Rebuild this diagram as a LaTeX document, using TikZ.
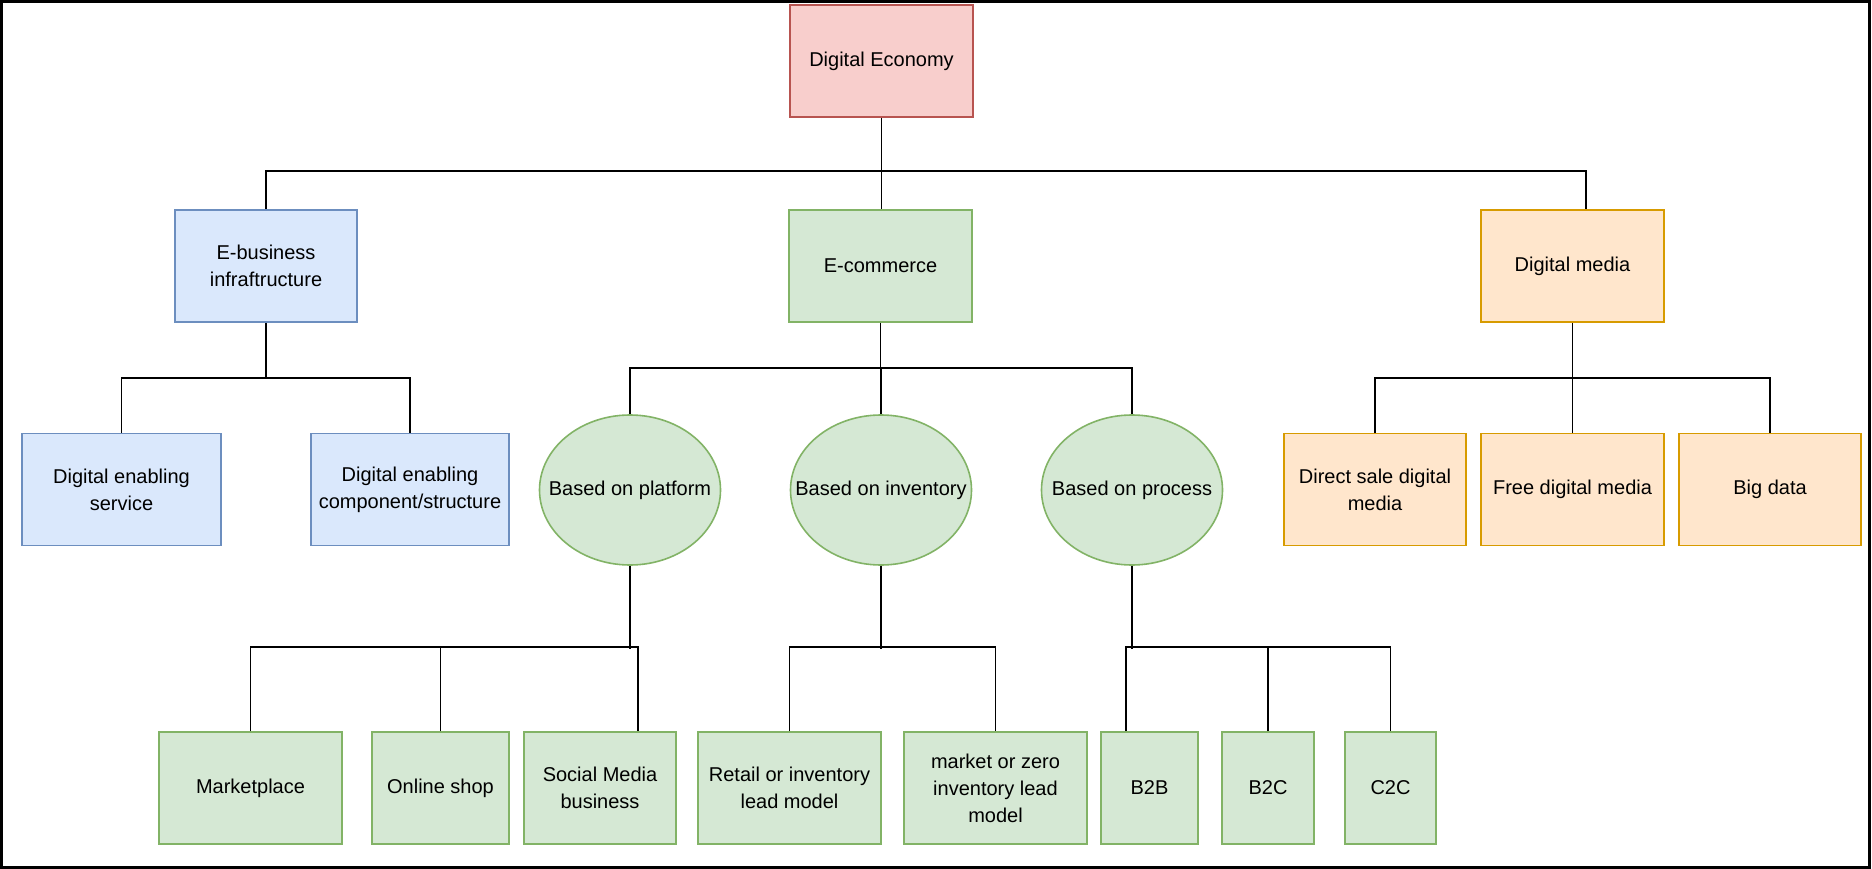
\documentclass[tikz,border=0pt]{standalone}
\usepackage{fontspec}
\setmainfont{Liberation Sans}
\usetikzlibrary{shapes.geometric}

\definecolor{redfill}{HTML}{F8CECC}
\definecolor{redline}{HTML}{B85450}
\definecolor{bluefill}{HTML}{DAE8FC}
\definecolor{blueline}{HTML}{6C8EBF}
\definecolor{greenfill}{HTML}{D5E8D4}
\definecolor{greenline}{HTML}{82B366}
\definecolor{orangefill}{HTML}{FFE6CC}
\definecolor{orangeline}{HTML}{D79B00}

\tikzset{
    item/.style={draw, line width=1.6pt, minimum height=112pt, inner sep=0pt,
        align=center, font=\fontsize{20}{27}\selectfont},
    redbox/.style={item, fill=redfill, draw=redline},
    bluebox/.style={item, fill=bluefill, draw=blueline},
    greenbox/.style={item, fill=greenfill, draw=greenline},
    orangebox/.style={item, fill=orangefill, draw=orangeline},
    greenoval/.style={item, ellipse, fill=greenfill, draw=greenline,
        minimum width=181pt, minimum height=150pt,
        label={[font=\fontsize{20}{27}\selectfont]center:#1}},
    link/.style={line width=1.7pt, black}
}

\begin{document}
\begin{tikzpicture}[x=1pt, y=-1pt]
    \useasboundingbox (0,0) rectangle (1872,869);
    % Cadre
    \draw[line width=3pt] (1.5,1.5) rectangle (1869,867);

    % Racine et premier niveau
    \node[redbox, minimum width=183pt] (econ) at (881.5,61) {Digital Economy};
    \node[bluebox, minimum width=182pt] (ebiz) at (266,266) {E-business\\infraftructure};
    \node[greenbox, minimum width=183pt] (ecom) at (880.5,266) {E-commerce};
    \node[orangebox, minimum width=183pt] (dmedia) at (1572.5,266) {Digital media};

    % Sous E-business
    \node[bluebox, minimum width=199pt] (desvc) at (121.5,489.5) {Digital enabling\\service};
    \node[bluebox, minimum width=198pt] (decomp) at (410,489.5) {Digital enabling\\component/structure};

    % Sous E-commerce
    \node[greenoval=Based on platform] (platform) at (630,490) {};
    \node[greenoval=Based on inventory] (inventory) at (881,490) {};
    \node[greenoval=Based on process] (process) at (1132,490) {};

    % Sous Digital media
    \node[orangebox, minimum width=182pt] (direct) at (1375,489.5) {Direct sale digital\\media};
    \node[orangebox, minimum width=183pt] (free) at (1572.5,489.5) {Free digital media};
    \node[orangebox, minimum width=182pt] (bigdata) at (1770,489.5) {Big data};

    % Dernier niveau
    \node[greenbox, minimum width=183pt] (market) at (250.5,788) {Marketplace};
    \node[greenbox, minimum width=137pt] (shop) at (440.5,788) {Online shop};
    \node[greenbox, minimum width=152pt] (social) at (600,788) {Social Media\\business};
    \node[greenbox, minimum width=183pt] (retail) at (789.5,788) {Retail or inventory\\lead model};
    \node[greenbox, minimum width=183pt] (zeroinv) at (995.5,788) {market or zero\\inventory lead\\model};
    \node[greenbox, minimum width=97pt] (btob) at (1149.5,788) {B2B};
    \node[greenbox, minimum width=92pt] (btoc) at (1268,788) {B2C};
    \node[greenbox, minimum width=91pt] (ctoc) at (1390.5,788) {C2C};

    % Liens
    \draw[link] (econ.south) -- (econ.south |- ecom.north);
    \draw[link] (ebiz.north) -- ++(0,-38) -| ([xshift=13.5pt]dmedia.north);

    \draw[link] (ebiz.south) -- ++(0,56);
    \draw[link] (desvc.north) -- ++(0,-55) -| (decomp.north);

    \draw[link] (ecom.south) -- ++(0,46);
    \draw[link] (platform.north) -- ++(0,-46) -| (process.north);
    \draw[link] (inventory.north) -- ++(0,-46);

    \draw[link] (dmedia.south) -- ++(0,56);
    \draw[link] (direct.north) -- ++(0,-55) -| (bigdata.north);
    \draw[link] (free.north) -- ++(0,-55);

    \draw[link] (platform.south) -- ++(0,83);
    \draw[link] (market.north) -- ++(0,-84) -| ([xshift=38pt]social.north);
    \draw[link] (shop.north) -- ++(0,-84);

    \draw[link] (inventory.south) -- ++(0,83);
    \draw[link] (retail.north) -- ++(0,-84) -| (zeroinv.north);

    \draw[link] (process.south) -- ++(0,83);
    \draw[link] ([xshift=-23.5pt]btob.north) -- ++(0,-84) -| (ctoc.north);
    \draw[link] (btoc.north) -- ++(0,-84);
\end{tikzpicture}
\end{document}
